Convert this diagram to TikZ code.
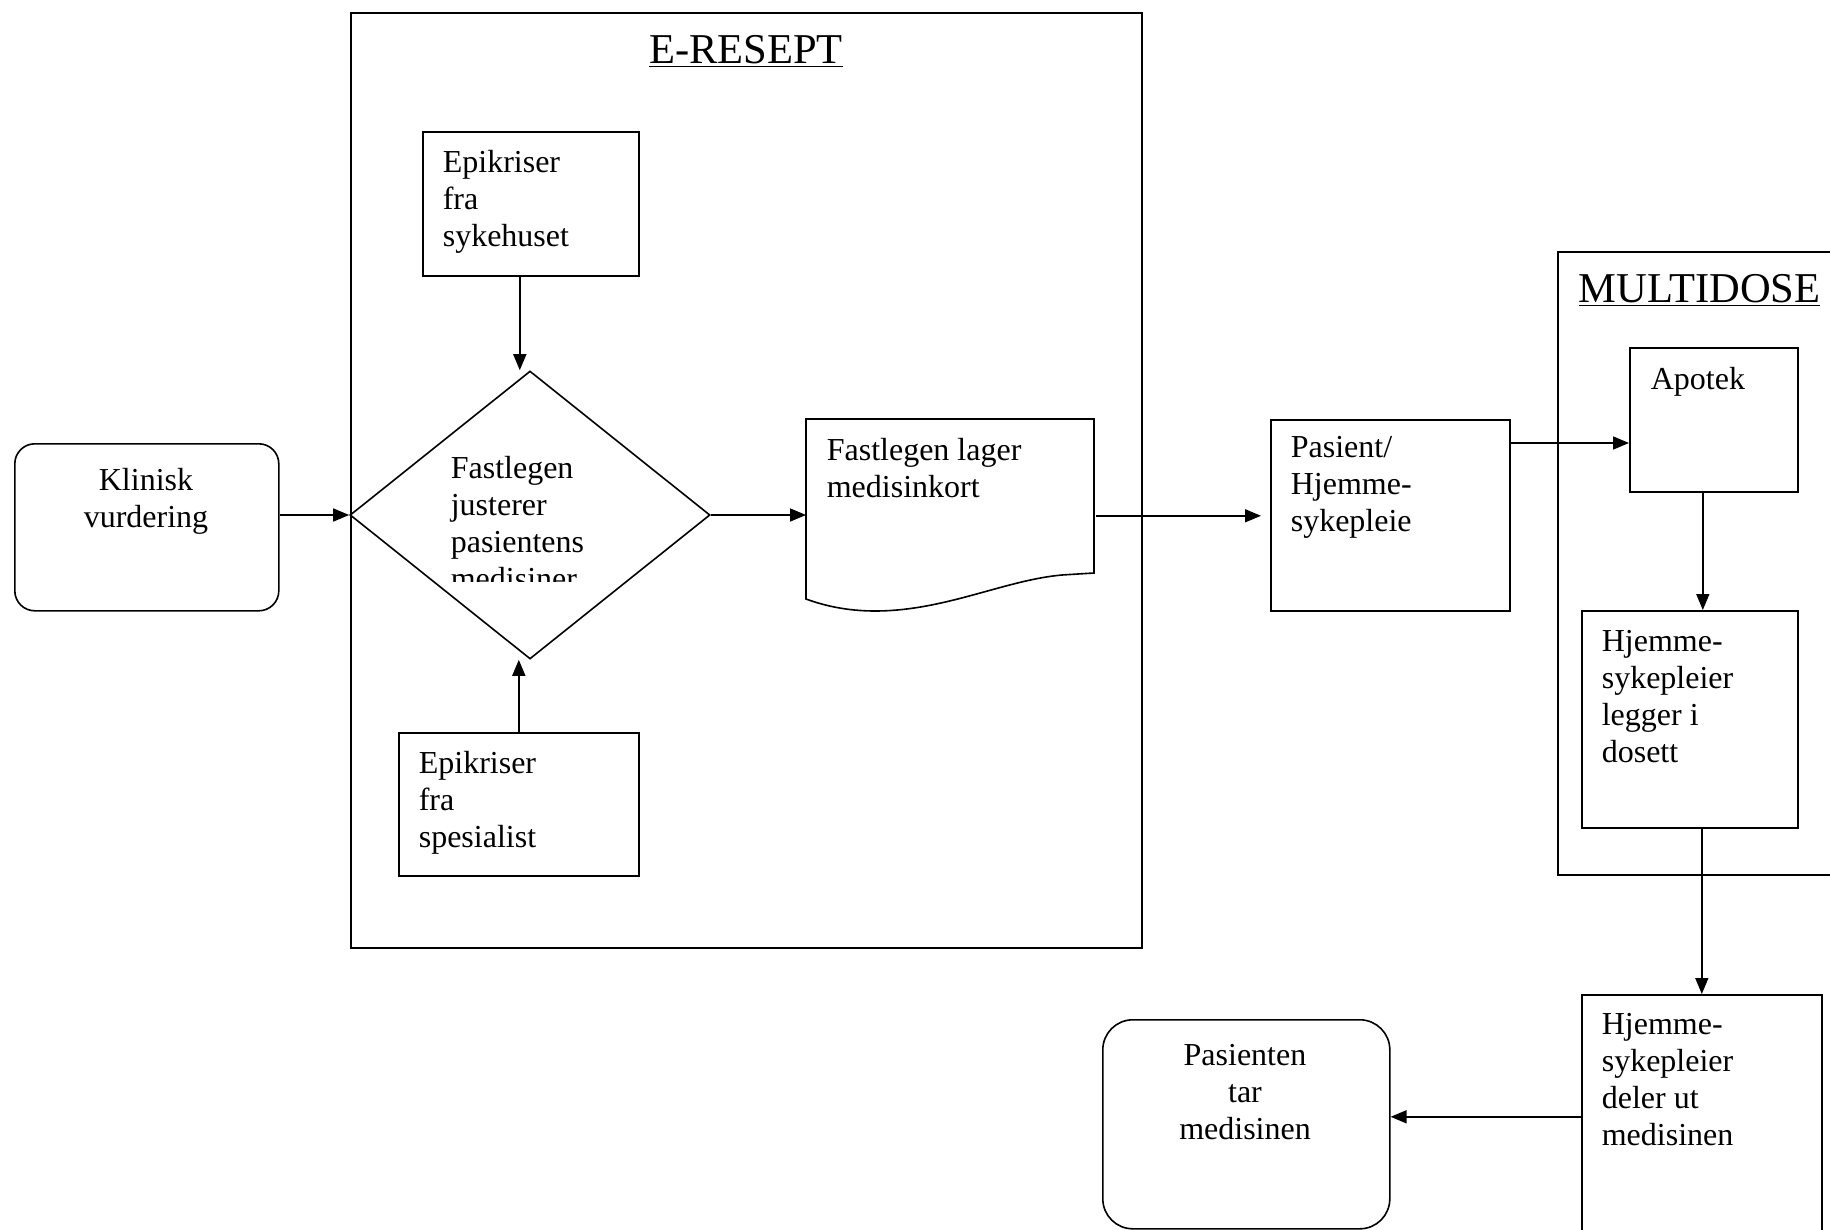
\documentclass[tikz,border=0pt]{standalone}
\usepackage{fontspec}
\setmainfont{Liberation Serif}
\usetikzlibrary{arrows.meta,shapes.geometric}
\begin{document}
\begin{tikzpicture}[x=1pt,y=-1pt,
  every node/.style={line width=1.6pt},
  box/.style={draw,rectangle,inner sep=0pt,anchor=north west},
  rbox/.style={box,rounded corners=#1},
  dia/.style={draw,diamond,inner sep=0pt,minimum width=360pt,minimum height=288pt},
  txt/.style={inner sep=0pt,anchor=north west,align=left,font=\fontsize{32}{37}\selectfont},
  ctxt/.style={inner sep=0pt,anchor=north,align=center,font=\fontsize{32}{37}\selectfont},
  ttl/.style={inner sep=0pt,font=\fontsize{42.5}{50}\selectfont},
  arr/.style={line width=1.6pt,-{Triangle[length=16pt,width=13pt]}},
  ln/.style={line width=1.6pt}]
\useasboundingbox (0,0) rectangle (1830,1230);
\fill[white] (0,0) rectangle (1830,1230);
\clip (0,0) rectangle (1830,1230);

% containers
\node[box,minimum width=791pt,minimum height=935pt] (er) at (350,12) {};
\node[ttl,anchor=base] (ert) at (746,64) {\underline{E-RESEPT}};
\node[box,minimum width=320pt,minimum height=623pt] (md) at (1557,251) {};
\node[ttl,anchor=base west] (mdt) at (1578,303) {\underline{MULTIDOSE}};

% nodes
\node[rbox=20pt,minimum width=264pt,minimum height=167pt] (kli) at (14,443) {};
\node[ctxt] (klit) at (146,467) {Klinisk\\vurdering};

\node[box,minimum width=216pt,minimum height=144pt] (sy) at (422,131) {};
\node[txt] (syt) at (442,149) {Epikriser\\fra\\sykehuset};

\node[dia] (dia) at (530,515) {};
\begin{scope}
  \clip (350,371) rectangle (710,581);
  \node[txt] (diat) at (450,455) {Fastlegen\\justerer\\pasientens\\medisiner};
\end{scope}

\node[box,minimum width=240pt,minimum height=143pt] (sp) at (398,732) {};
\node[txt] (spt) at (418,750) {Epikriser\\fra\\spesialist};

\node[inner sep=0pt,anchor=north west,minimum width=288pt,minimum height=192pt] (doc) at (806,419) {};
\draw[ln] (806,419) -- (1094,419) -- (1094,573) -- (1062,575)
  .. controls (1005,580) and (945,611) .. (875,611)
  .. controls (848,611) and (825,606) .. (806,599) -- cycle;
\node[txt] (doct) at (826,437) {Fastlegen lager\\medisinkort};

\node[box,minimum width=239pt,minimum height=191pt] (pas) at (1270,419) {};
\node[txt] (past) at (1290,436) {Pasient/\\Hjemme-\\sykepleie};

\node[box,minimum width=168pt,minimum height=144pt] (apo) at (1629,347) {};
\node[txt] (apot) at (1650,366) {Apotek};

\node[box,minimum width=216pt,minimum height=217pt] (leg) at (1581,610) {};
\node[txt] (legt) at (1601,630) {Hjemme-\\sykepleier\\legger i\\dosett};

\node[box,minimum width=240pt,minimum height=244pt] (del) at (1581,994) {};
\node[txt] (delt) at (1601,1013) {Hjemme-\\sykepleier\\deler ut\\medisinen};

\node[rbox=30pt,minimum width=287pt,minimum height=209pt] (tar) at (1102,1019) {};
\node[ctxt] (tart) at (1245,1044) {Pasienten\\tar\\medisinen};

% connectors
\draw[arr] (dia.west -| kli.east) -- (dia.west);
\draw[arr] ([xshift=-11pt]sy.south) -- ([xshift=-11pt]sy.south |- dia.north);
\draw[arr] (sp.north) -- (sp.north |- dia.south);
\draw[arr] (dia.east) -- (dia.east -| doc.west);
\draw[arr] (doc.east) -- ([xshift=-9pt]doc.east -| pas.west);
\draw[arr] ([yshift=-24pt]pas.north east) -- ([yshift=-24pt]pas.north east -| apo.west);
\draw[arr] ([xshift=-11pt]apo.south) -- ([xshift=-11pt]apo.south |- leg.north);
\draw[arr] (leg.south -| del.north) -- (del.north);
\draw[arr] (del.west) -- (del.west -| tar.east);
\end{tikzpicture}
\end{document}
